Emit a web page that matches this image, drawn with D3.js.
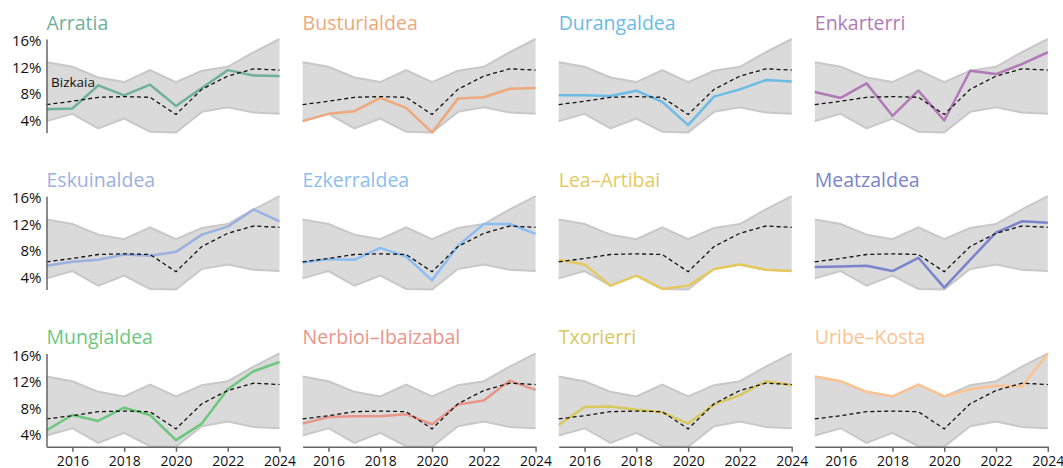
<!DOCTYPE html>
<html>
<head>
<meta charset="utf-8">
<script src="https://cdn.jsdelivr.net/npm/d3@7"></script>
<style>
  body { margin: 0; background: #fff; font-family: "Open Sans", "Noto Sans", sans-serif; }
  .axis text { font-family: "Open Sans", "Noto Sans", sans-serif; fill: #111; }
  .axis path, .axis line { stroke: #666; stroke-width: 1.5; }
</style>
</head>
<body>
<div id="chart"></div>
<script>
var width = 1063,
    height = 468;

var years = [2015, 2016, 2017, 2018, 2019, 2020, 2021, 2022, 2023, 2024];

var regions = ["Arratia", "Busturialdea", "Durangaldea", "Enkarterri",
               "Eskuinaldea", "Ezkerraldea", "Lea-Artibai", "Meatzaldea",
               "Mungialdea", "Nerbioi-Ibaizabal", "Txorierri", "Uribe-Kosta"];

var colors = ["#6fb09c", "#eea87c", "#6bbbe5", "#b07ab6",
              "#9bb1df", "#8cbdf0", "#e6c95e", "#7a83cc",
              "#6dc77e", "#e8958b", "#d8c85e", "#fcc390"];

// rate per region, one row per region, one value per year
var rates = [
  [5.7, 5.8, 9.3, 7.8, 9.4, 6.2, 8.9, 11.6, 10.8, 10.7],
  [3.9, 5.0, 5.4, 7.4, 5.9, 2.2, 7.3, 7.5, 8.8, 8.9],
  [7.8, 7.8, 7.7, 8.5, 6.8, 3.3, 7.6, 8.7, 10.1, 9.9],
  [8.3, 7.4, 9.6, 4.7, 8.5, 4.0, 11.5, 11.0, 12.5, 14.3],
  [5.8, 6.4, 6.7, 7.5, 7.3, 7.9, 10.5, 11.7, 14.3, 12.5],
  [6.3, 6.8, 6.7, 8.5, 7.2, 3.6, 8.8, 12.1, 12.1, 10.6],
  [6.7, 6.0, 2.8, 4.3, 2.3, 2.8, 5.3, 6.0, 5.2, 5.0],
  [5.6, 5.7, 5.8, 5.0, 7.0, 2.5, 6.7, 10.8, 12.5, 12.3],
  [4.7, 7.0, 6.1, 8.1, 7.0, 3.2, 5.7, 10.9, 13.6, 15.0],
  [5.7, 6.7, 6.8, 6.8, 7.1, 5.6, 8.6, 9.2, 12.2, 10.8],
  [5.5, 8.2, 8.3, 7.8, 7.4, 5.7, 8.6, 10.0, 12.1, 11.5],
  [12.8, 12.1, 10.5, 9.8, 11.6, 9.8, 10.9, 11.4, 11.3, 16.3]
];

var bizkaia = [6.4, 6.9, 7.5, 7.6, 7.5, 4.9, 8.7, 10.7, 11.8, 11.6];

var yTicks = [4, 8, 12, 16],
    xTicks = [2016, 2018, 2020, 2022, 2024];

var margin = {left: 46.5, top: 39},
    panelW = 233,
    panelH = 93.4,
    stepX = 256.1,
    stepY = 157.2;

// band = min / max of all regions each year
var band = years.map(function (y, i) {
    var col = rates.map(function (r) { return r[i]; });
    return {year: y, lo: d3.min(col), hi: d3.max(col)};
});

var x = d3.scaleLinear().domain(d3.extent(years)).range([0, panelW]);
var y = d3.scaleLinear().domain(d3.extent(d3.merge(rates))).range([panelH, 0]);

var svg = d3.select("#chart")
    .append("svg")
    .attr("width", width)
    .attr("height", height);

var lineHi = d3.line().x(function (d) { return x(d.year); }).y(function (d) { return y(d.hi); });
var lineLo = d3.line().x(function (d) { return x(d.year); }).y(function (d) { return y(d.lo); });
var area = d3.area()
    .x(function (d) { return x(d.year); })
    .y0(function (d) { return y(d.lo); })
    .y1(function (d) { return y(d.hi); });
var valLine = d3.line()
    .x(function (d, i) { return x(years[i]); })
    .y(function (d) { return y(d); });

regions.forEach(function (name, k) {
    var col = k % 4,
        row = Math.floor(k / 4);

    var g = svg.append("g")
        .attr("transform", "translate(" + (margin.left + col * stepX) + "," + (margin.top + row * stepY) + ")");

    g.append("path").datum(band).attr("d", area).style("fill", "#dadada");
    g.append("path").datum(band).attr("d", lineHi)
        .style("fill", "none").style("stroke", "#c8c8c8").style("stroke-width", 2);
    g.append("path").datum(band).attr("d", lineLo)
        .style("fill", "none").style("stroke", "#c8c8c8").style("stroke-width", 2);

    g.append("path").datum(rates[k]).attr("d", valLine)
        .style("fill", "none")
        .style("stroke", colors[k])
        .style("stroke-width", 2.5)
        .style("stroke-linejoin", "round");

    g.append("path").datum(bizkaia).attr("d", valLine)
        .style("fill", "none")
        .style("stroke", "#111")
        .style("stroke-width", 1.3)
        .style("stroke-dasharray", "4,3");

    g.append("text")
        .text(name.replace("-", "\u2013"))
        .attr("x", 0)
        .attr("y", -9.5)
        .style("fill", colors[k])
        .style("font-size", "19.5px");

    if (col == 0) {
        g.append("g")
            .attr("class", "axis")
            .call(d3.axisLeft(y).tickValues(yTicks).tickSize(0).tickPadding(5)
                .tickFormat(function (d) { return d + "%"; }))
            .call(function (a) { a.selectAll("text").style("font-size", "15px"); });
    }
    if (row == 2) {
        g.append("g")
            .attr("class", "axis")
            .attr("transform", "translate(0," + panelH + ")")
            .call(d3.axisBottom(x).tickValues(xTicks).tickSize(5).tickSizeOuter(0).tickPadding(4)
                .tickFormat(d3.format("d")))
            .call(function (a) { a.selectAll("text").style("font-size", "14px"); });
    }
    if (k == 0) {
        g.append("text")
            .text("Bizkaia")
            .attr("x", 4.5)
            .attr("y", y(bizkaia[1]) - 14)
            .style("fill", "#111")
            .style("font-size", "13.5px");
    }
});
</script>
</body>
</html>
